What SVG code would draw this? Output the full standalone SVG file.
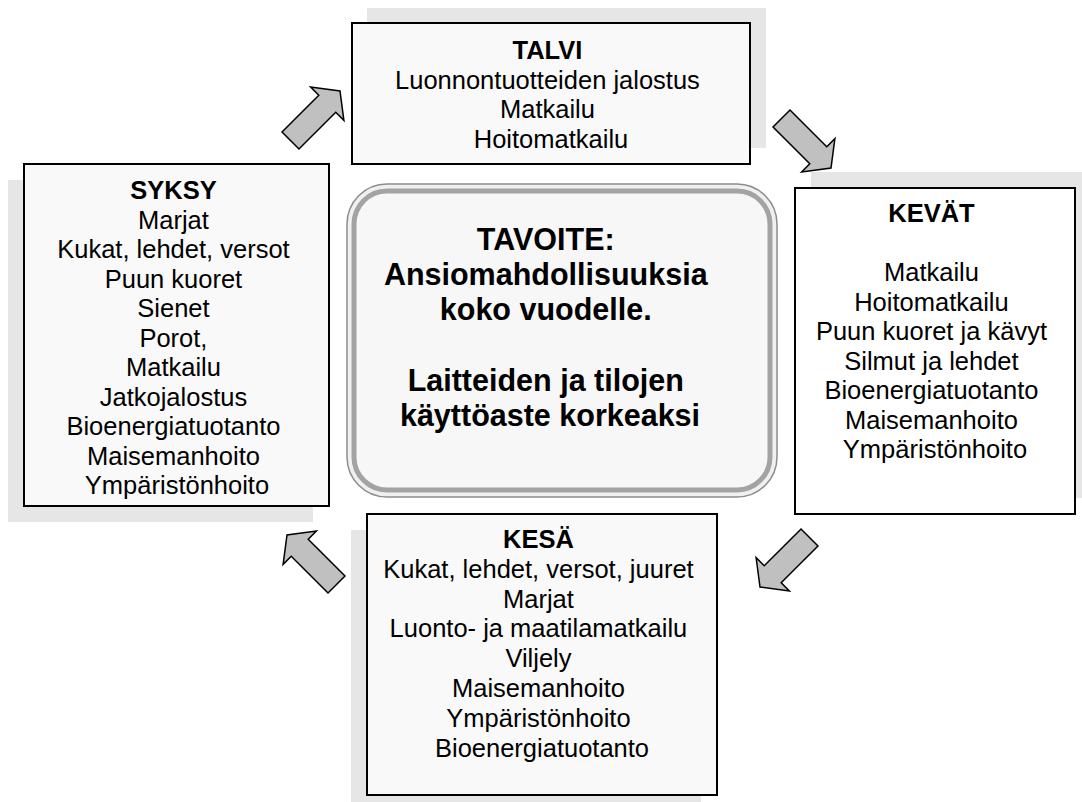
<svg xmlns="http://www.w3.org/2000/svg" xmlns:xlink="http://www.w3.org/1999/xlink" width="1082" height="802" viewBox="0 0 1082 802">
  <style>
    .shadow { fill: #e6e6e6; }
    .box { fill: #f9f9f9; stroke: #000; stroke-width: 2; }
    .box.white { fill: #ffffff; }
    .txt { font-family: "Liberation Sans", Arial, sans-serif; font-size: 25.5px; fill: #000; text-anchor: middle; }
    .title { font-weight: bold; }
    .goal { font-family: "Liberation Sans", Arial, sans-serif; font-size: 30.5px; font-weight: bold; fill: #000; text-anchor: middle; }
    .arrow { fill: #c0c0c0; stroke: #000; stroke-width: 1.5; stroke-linejoin: miter; }
  </style>
  <defs>
    <!-- block arrow pointing along +x, tail centred on the origin -->
    <path id="blockArrow" d="M0,-12 L52,-12 L52,-23.5 L70,0 L52,23.5 L52,12 L0,12 Z"/>
  </defs>

  <rect width="1082" height="802" fill="#ffffff"/>

  <!-- winter -->
  <g id="talvi">
    <rect class="shadow" x="367" y="8" width="399" height="140"/>
    <rect class="box" x="352" y="23" width="398" height="141"/>
    <text class="txt" x="551" y="59"><tspan class="title">TALVI</tspan>
      <tspan x="551" dy="29.5">Luonnontuotteiden jalostus</tspan>
      <tspan x="551" dy="29.5">Matkailu</tspan>
      <tspan x="551" dy="29.5">Hoitomatkailu</tspan>
    </text>
  </g>

  <!-- autumn -->
  <g id="syksy">
    <rect class="shadow" x="8" y="180" width="305" height="342"/>
    <rect class="box" x="24" y="164" width="305" height="342"/>
    <text class="txt" x="177" y="199"><tspan class="title">SYKSY</tspan>
      <tspan x="177" dy="29.5">Marjat</tspan>
      <tspan x="177" dy="29.5">Kukat, lehdet, versot</tspan>
      <tspan x="177" dy="29.5">Puun kuoret</tspan>
      <tspan x="177" dy="29.5">Sienet</tspan>
      <tspan x="177" dy="29.5">Porot,</tspan>
      <tspan x="177" dy="29.5">Matkailu</tspan>
      <tspan x="177" dy="29.5">Jatkojalostus</tspan>
      <tspan x="177" dy="29.5">Bioenergiatuotanto</tspan>
      <tspan x="177" dy="29.5">Maisemanhoito</tspan>
      <tspan x="177" dy="29.5">Ympäristönhoito</tspan>
    </text>
  </g>

  <!-- spring -->
  <g id="kevat">
    <rect class="shadow" x="811" y="172" width="280" height="326"/>
    <rect class="box white" x="795" y="188" width="280" height="326"/>
    <text class="txt" x="935" y="222"><tspan class="title">KEVÄT</tspan>
      <tspan x="935" dy="59">Matkailu</tspan>
      <tspan x="935" dy="29.5">Hoitomatkailu</tspan>
      <tspan x="935" dy="29.5">Puun kuoret ja kävyt</tspan>
      <tspan x="935" dy="29.5">Silmut ja lehdet</tspan>
      <tspan x="935" dy="29.5">Bioenergiatuotanto</tspan>
      <tspan x="935" dy="29.5">Maisemanhoito</tspan>
      <tspan x="935" dy="29.5">Ympäristönhoito</tspan>
    </text>
  </g>

  <!-- summer -->
  <g id="kesa">
    <rect class="shadow" x="351" y="530" width="350" height="281"/>
    <rect class="box" x="367" y="514" width="350" height="281"/>
    <text class="txt" x="542" y="548"><tspan class="title">KESÄ</tspan>
      <tspan x="542" dy="29.8">Kukat, lehdet, versot, juuret</tspan>
      <tspan x="542" dy="29.8">Marjat</tspan>
      <tspan x="542" dy="29.8">Luonto- ja maatilamatkailu</tspan>
      <tspan x="542" dy="29.8">Viljely</tspan>
      <tspan x="542" dy="29.8">Maisemanhoito</tspan>
      <tspan x="542" dy="29.8">Ympäristönhoito</tspan>
      <tspan x="542" dy="29.8">Bioenergiatuotanto</tspan>
    </text>
  </g>

  <!-- goal in the middle, double rounded frame -->
  <g id="tavoite">
    <rect x="347" y="184" width="430" height="313" rx="40" ry="40" fill="#f0f0f0" stroke="#8c8c8c" stroke-width="1.5"/>
    <rect x="354" y="191" width="416" height="299" rx="33" ry="33" fill="#f7f7f7" stroke="#a3a3a3" stroke-width="5"/>
    <text class="goal" x="550" y="250">TAVOITE:
      <tspan x="550" dy="35.2">Ansiomahdollisuuksia</tspan>
      <tspan x="550" dy="35.2">koko vuodelle.</tspan>
      <tspan x="550" dy="70.4">Laitteiden ja tilojen</tspan>
      <tspan x="550" dy="35.2">käyttöaste korkeaksi</tspan>
    </text>
  </g>

  <!-- seasonal cycle arrows -->
  <g id="connectors">
    <use class="arrow" xlink:href="#blockArrow" transform="translate(290.5,140.5) rotate(-45)"/>
    <use class="arrow" xlink:href="#blockArrow" transform="translate(781.5,118.5) rotate(45)"/>
    <use class="arrow" xlink:href="#blockArrow" transform="translate(809.5,537.5) rotate(135)"/>
    <use class="arrow" xlink:href="#blockArrow" transform="translate(336.5,584.5) rotate(-135)"/>
  </g>
</svg>
